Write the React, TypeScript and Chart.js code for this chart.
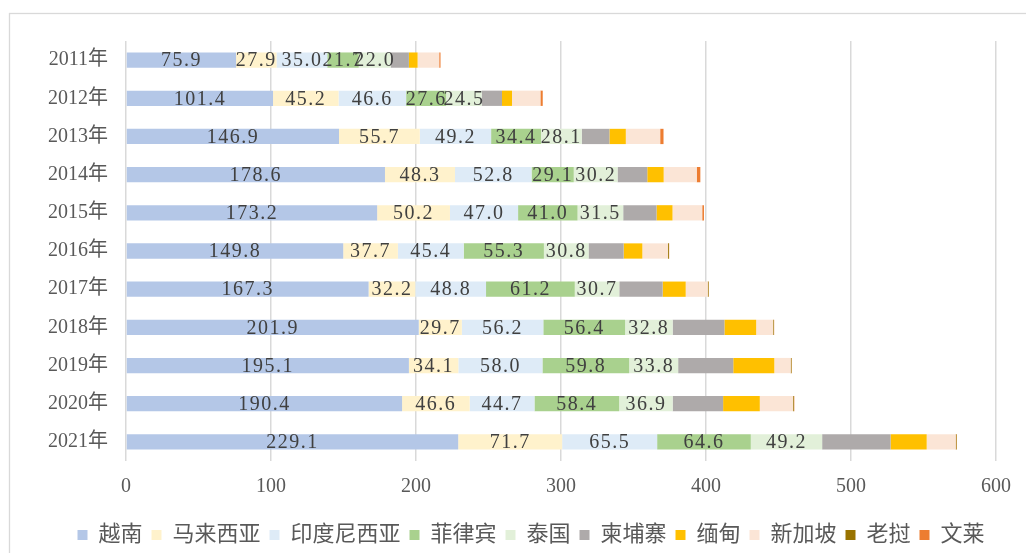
import React, { useEffect, useRef } from "react";
import { Chart, registerables } from "chart.js";

Chart.register(...registerables);

const years = ["2011年", "2012年", "2013年", "2014年", "2015年", "2016年", "2017年", "2018年", "2019年", "2020年", "2021年"];

const vietnam = [75.9, 101.4, 146.9, 178.6, 173.2, 149.8, 167.3, 201.9, 195.1, 190.4, 229.1];
const malaysia = [27.9, 45.2, 55.7, 48.3, 50.2, 37.7, 32.2, 29.7, 34.1, 46.6, 71.7];
const indonesia = [35.0, 46.6, 49.2, 52.8, 47.0, 45.4, 48.8, 56.2, 58.0, 44.7, 65.5];
const philippines = [21.7, 27.6, 34.4, 29.1, 41.0, 55.3, 61.2, 56.4, 59.8, 58.4, 64.6];
const thailand = [22.0, 24.5, 28.1, 30.2, 31.5, 30.8, 30.7, 32.8, 33.8, 36.9, 49.2];
const cambodia = [12.6, 14.0, 19.1, 20.5, 23.0, 24.2, 29.9, 35.7, 38.0, 34.8, 47.2];
const myanmar = [6.0, 6.9, 11.3, 11.3, 11.0, 12.9, 15.9, 21.9, 28.3, 25.3, 24.9];
const singapore = [14.9, 19.6, 23.7, 22.8, 20.5, 17.7, 15.2, 11.7, 11.3, 23.0, 20.0];
const laos = [0, 0, 0, 0, 0, 0.6, 0.6, 0.5, 0.6, 0.6, 0.6];
const brunei = [0.9, 1.6, 2.3, 2.5, 1.2, 0.2, 0.2, 0.2, 0.2, 0.2, 0.3];

const seriesNames = ["越南", "马来西亚", "印度尼西亚", "菲律宾", "泰国", "柬埔寨", "缅甸", "新加坡", "老挝", "文莱"];
const seriesData = [vietnam, malaysia, indonesia, philippines, thailand, cambodia, myanmar, singapore, laos, brunei];
const seriesColors = ["#B4C7E7", "#FFF2CC", "#DEEBF7", "#A9D18E", "#E2F0D9", "#AEAAAA", "#FFC000", "#FBE5D6", "#997300", "#ED7D31"];
const labeledSeries = 5;

const xTicks = [0, 100, 200, 300, 400, 500, 600];

const FONT = "'Liberation Serif', 'Noto Sans CJK SC', serif";

const borderPlugin = {
  id: "outerBorder",
  beforeDraw(chart: any) {
    const ctx = chart.ctx;
    ctx.save();
    ctx.fillStyle = "#ffffff";
    ctx.fillRect(0, 0, chart.width, chart.height);
    ctx.strokeStyle = "#d9d9d9";
    ctx.lineWidth = 1.3;
    ctx.strokeRect(9.5, 13.5, chart.width + 20, chart.height + 20);
    ctx.restore();
  },
};

const legendShiftPlugin = {
  id: "legendShift",
  afterLayout(chart: any) {
    const lg = chart.legend;
    if (!lg) return;
    const dx = 18;
    const dy = 3;
    lg.left += dx;
    lg.right += dx;
    lg.top += dy;
    lg.bottom += dy;
  },
};

const labelPlugin = {
  id: "barValueLabels",
  afterDatasetsDraw(chart: any) {
    const ctx = chart.ctx;
    ctx.save();
    ctx.font = `20px ${FONT}`;
    ctx.fillStyle = "#404040";
    ctx.textAlign = "center";
    ctx.textBaseline = "middle";
    try {
      (ctx as any).letterSpacing = "1.5px";
    } catch (e) {}
    for (let d = 0; d < labeledSeries; d++) {
      const meta = chart.getDatasetMeta(d);
      meta.data.forEach((el: any, i: number) => {
        const v = chart.data.datasets[d].data[i];
        const c = el.getCenterPoint();
        ctx.fillText(Number(v).toFixed(1), c.x, c.y + 1);
      });
    }
    ctx.restore();
  },
};

export default function App() {
  const ref = useRef<HTMLCanvasElement | null>(null);

  useEffect(() => {
    if (!ref.current) return;
    const chart = new Chart(ref.current, {
      type: "bar",
      data: {
        labels: years,
        datasets: seriesNames.map((name, i) => ({
          label: name,
          data: seriesData[i],
          backgroundColor: seriesColors[i],
          borderWidth: 0,
          barPercentage: 0.4,
          categoryPercentage: 1,
        })),
      },
      options: {
        indexAxis: "y",
        responsive: false,
        animation: false,
        layout: { padding: { left: 30, right: 30, top: 41, bottom: 0 } },
        plugins: {
          tooltip: { enabled: false },
          legend: {
            position: "bottom",
            labels: {
              boxWidth: 10,
              boxHeight: 10,
              padding: 9,
              color: "#595959",
              font: { size: 22, family: FONT },
            },
          },
        },
        scales: {
          x: {
            stacked: true,
            min: 0,
            max: 600,
            afterBuildTicks: (s: any) => {
              s.ticks = xTicks.map((v) => ({ value: v }));
            },
            afterFit: (s: any) => {
              s.height = 51;
            },
            grid: { color: "#d9d9d9", lineWidth: 1.5, drawTicks: false },
            border: { display: false },
            ticks: { color: "#595959", padding: 14, font: { size: 20, family: FONT } },
          },
          y: {
            stacked: true,
            afterFit: (s: any) => {
              s.width = 96;
            },
            grid: { display: false, drawTicks: false },
            border: { display: false },
            ticks: { color: "#595959", padding: 18, font: { size: 20, family: FONT } },
          },
        },
      },
      plugins: [borderPlugin, legendShiftPlugin, labelPlugin],
    });
    return () => chart.destroy();
  }, []);

  return (
    <div style={{ position: "absolute", left: 0, top: 0, width: 1026, height: 553 }}>
      <canvas ref={ref} width={1026} height={553} />
    </div>
  );
}
